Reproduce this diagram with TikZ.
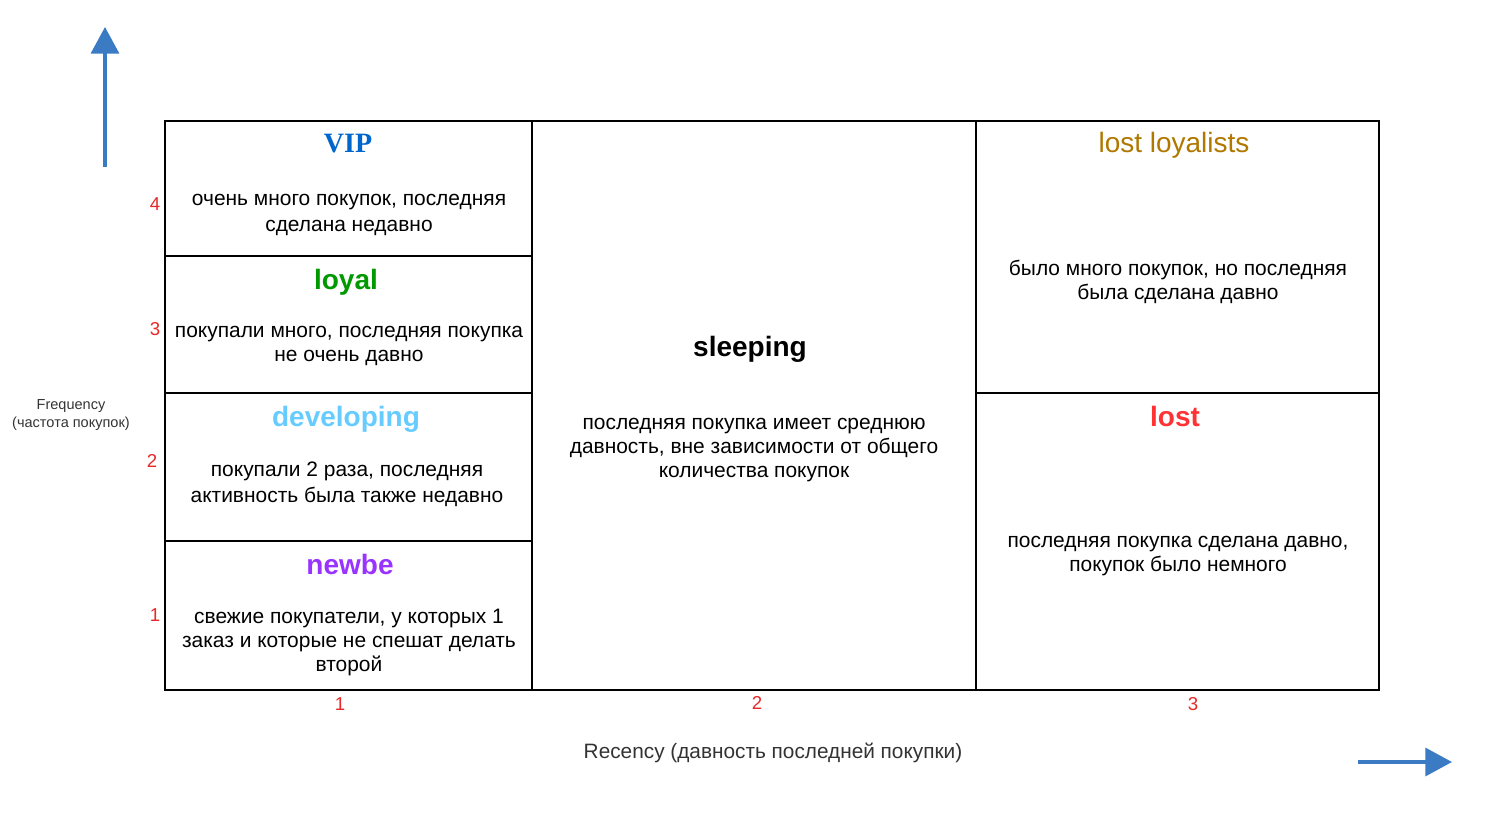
\documentclass[tikz,border=0pt]{standalone}
\usepackage{fontspec}
\setmainfont{Liberation Sans}
\newfontfamily\vipfont{Liberation Serif}
\usetikzlibrary{arrows.meta}
\definecolor{arrowblue}{RGB}{58, 123, 196}
\definecolor{vipblue}{RGB}{0, 102, 204}
\definecolor{loyalgreen}{RGB}{0, 153, 0}
\definecolor{devblue}{RGB}{102, 204, 255}
\definecolor{newbepurple}{RGB}{153, 51, 255}
\definecolor{lostred}{RGB}{255, 51, 51}
\definecolor{loyalistgold}{RGB}{176, 120, 0}
\definecolor{numred}{RGB}{230, 40, 40}
\definecolor{axisgray}{RGB}{51, 51, 51}

\begin{document}
\begin{tikzpicture}[x=0.75pt, y=-0.75pt,
  title/.style={font=\fontsize{21}{24}\selectfont\bfseries},
  body/.style={font=\fontsize{15.7}{18}\selectfont, align=center},
  num/.style={text=numred, font=\fontsize{14}{16}\selectfont},
  axisarrow/.style={draw=arrowblue, line width=2.6pt,
    -{Triangle[width=21pt, length=20pt]}}]

  \useasboundingbox (0, 0) rectangle (1500, 828);

  % grid
  \draw[line width=0.8pt] (165, 121) rectangle (1379, 690);
  \draw[line width=0.8pt] (532, 121) -- (532, 690);
  \draw[line width=0.8pt] (976, 121) -- (976, 690);
  \foreach \yy in {256, 393, 541} {
    \draw[line width=0.8pt] (165, \yy) -- (532, \yy);
  }
  \draw[line width=0.8pt] (976, 393) -- (1379, 393);

  % left column
  \node[title, text=vipblue, font=\fontsize{21}{24}\selectfont\vipfont\bfseries] (vip) at (348, 144) {VIP};
  \node[body, font=\fontsize{15.7}{19.5}\selectfont] (vipText) at (349, 215) {очень много покупок, последняя\\сделана недавно};

  \node[title, text=loyalgreen] (loyal) at (346, 282) {loyal};
  \node[body] (loyalText) at (349, 346) {покупали много, последняя покупка\\не очень давно};

  \node[title, text=devblue] (developing) at (346, 419) {developing};
  \node[body, font=\fontsize{15.7}{19.5}\selectfont] (developingText) at (347, 484) {покупали 2 раза, последняя\\активность была также недавно};

  \node[title, text=newbepurple] (newbe) at (350, 564) {newbe};
  \node[body] (newbeText) at (349, 642) {свежие покупатели, у которых 1\\заказ и которые не спешат делать\\второй};

  % middle column
  \node[title] (sleeping) at (750, 349) {sleeping};
  \node[body] (sleepingText) at (754, 450) {последняя покупка имеет среднюю\\давность, вне зависимости от общего\\количества покупок};

  % right column
  \node[title, text=loyalistgold, font=\fontsize{21}{24}\selectfont] (lostLoyalists) at (1174, 145) {lost loyalists};
  \node[body] (lostLoyalistsText) at (1178, 282) {было много покупок, но последняя\\была сделана давно};

  \node[title, text=lostred] (lost) at (1175, 416) {lost};
  \node[body] (lostText) at (1178, 556) {последняя покупка сделана давно,\\покупок было немного};

  % axis numbers
  \node[num] (f4) at (155, 204) {4};
  \node[num] (f3) at (155, 329) {3};
  \node[num] (f2) at (152, 461) {2};
  \node[num] (f1) at (155, 615) {1};
  \node[num] (r1) at (340, 704) {1};
  \node[num] (r2) at (757, 703) {2};
  \node[num] (r3) at (1193, 704) {3};

  % axis labels
  \node[text=axisgray, align=center, font=\fontsize{10.9}{12.8}\selectfont] (frequency) at (71, 415) {Frequency\\(частота покупок)};
  \node[text=axisgray, font=\fontsize{15.6}{18}\selectfont] (recency) at (773, 753) {Recency (давность последней покупки)};

  % arrows
  \coordinate (upStart) at (105, 167);
  \coordinate (upEnd) at (105, 27);
  \coordinate (rightStart) at (1358, 762);
  \coordinate (rightEnd) at (1452, 762);
  \draw[axisarrow] (upStart) -- (upEnd);
  \draw[axisarrow] (rightStart) -- (rightEnd);

\end{tikzpicture}
\end{document}
